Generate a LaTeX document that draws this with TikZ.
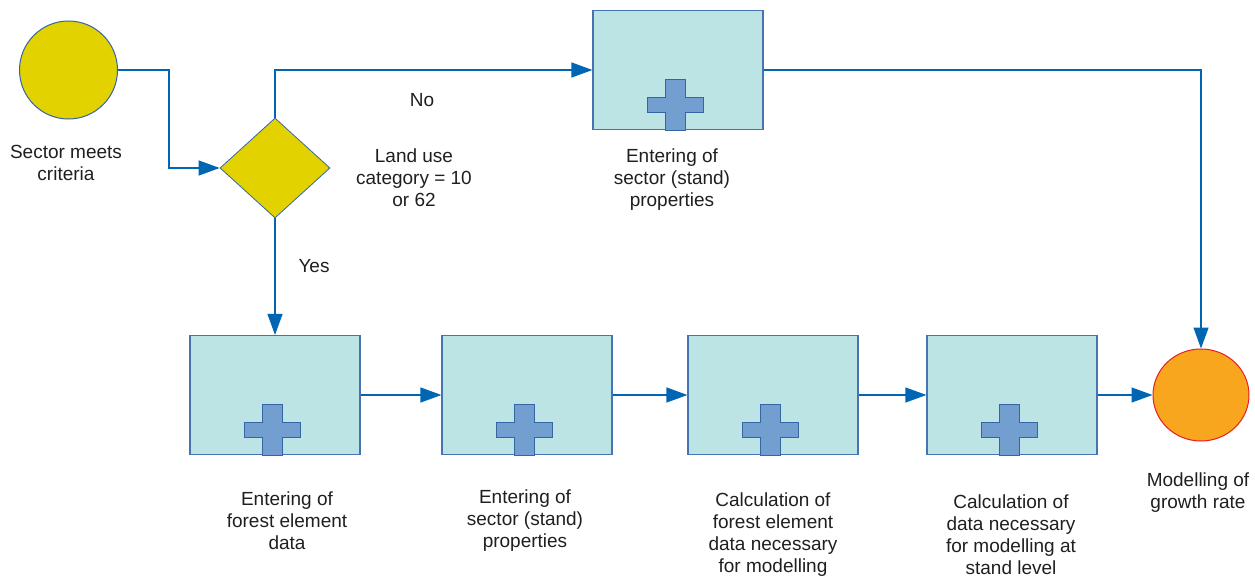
\documentclass[tikz,border=0pt]{standalone}
\usepackage{fontspec}
\setmainfont{Liberation Sans}
\usetikzlibrary{arrows.meta,shapes.geometric}

\definecolor{startyellow}{RGB}{226,210,0}
\definecolor{shapeline}{RGB}{52,101,164}
\definecolor{boxfill}{RGB}{189,228,228}
\definecolor{boxline}{RGB}{70,115,178}
\definecolor{plusfill}{RGB}{114,159,207}
\definecolor{linkblue}{RGB}{0,102,179}
\definecolor{goalorange}{RGB}{247,166,30}
\definecolor{goalred}{RGB}{232,30,36}

\tikzset{
  procbox/.style={draw=boxline, fill=boxfill, line width=1.2pt,
    minimum width=170pt, minimum height=119pt, inner sep=0pt},
  connector/.style={draw=linkblue, line width=1.3pt,
    -{Triangle[length=21pt,width=15pt]}},
  txt/.style={font=\fontsize{19}{22}\selectfont, align=center, text=black!88},
  plusmark/.style={fill=plusfill, draw=shapeline, line width=1pt, line join=miter}
}

% blue plus sign sitting on the bottom edge of a process box
\newcommand\drawplus[1]{%
  \begin{scope}[shift={(#1.south)}, xshift=-2.5pt]
    \path[plusmark] (-10,0) -- (-10,-18) -- (-28,-18) -- (-28,-33) -- (-10,-33)
      -- (-10,-51) -- (10,-51) -- (10,-33) -- (28,-33) -- (28,-18) -- (10,-18)
      -- (10,0) -- cycle;
  \end{scope}}

\begin{document}
\begin{tikzpicture}[x=1pt,y=-1pt]
\useasboundingbox (0,0) rectangle (1255,578);

% start and decision
\node[circle, fill=startyellow, draw=shapeline, line width=1pt,
  minimum size=98pt, inner sep=0pt] (start) at (68.5,70) {};
\node[txt] (startlbl) at (66,163) {Sector meets\\criteria};

\node[diamond, fill=startyellow, draw=shapeline, line width=0.8pt,
  minimum width=110pt, minimum height=100pt, inner sep=0pt, aspect=1.1] (dec) at (275,168) {};
\node[txt] (declbl) at (414,178) {Land use\\category = 10\\or 62};
\node[txt] (nolbl) at (422,100) {No};
\node[txt] (yeslbl) at (314,266) {Yes};

% process boxes
\node[procbox] (top) at (678,70) {};
\node[txt] (toplbl) at (672,179.5) {Entering of\\sector (stand)\\properties};

\node[procbox] (b1) at (275,395) {};
\node[procbox] (b2) at (527,395) {};
\node[procbox] (b3) at (773,395) {};
\node[procbox] (b4) at (1012,395) {};

\drawplus{top}
\drawplus{b1}
\drawplus{b2}
\drawplus{b3}
\drawplus{b4}

\node[txt] (b1lbl) at (287,521) {Entering of\\forest element\\data};
\node[txt] (b2lbl) at (525,521) {Entering of\\sector (stand)\\properties};
\node[txt] (b3lbl) at (773,535) {Calculation of\\forest element\\data necessary\\for modelling};
\node[txt] (b4lbl) at (1011,535) {Calculation of\\data necessary\\for modelling at\\stand level};

% end
\node[ellipse, fill=goalorange, draw=goalred, line width=1pt,
  minimum width=96pt, minimum height=92pt, inner sep=0pt] (goal) at (1201,395) {};
\node[txt] (goallbl) at (1198,493) {Modelling of\\growth rate};

% connectors
\draw[connector] (start.east) -- ++(51,0) |- (dec.west);
\draw[connector] (dec.north) |- (top.west);
\draw[connector] (dec.south) -- (b1.north);
\draw[connector] (top.east) -| (goal.north);
\draw[connector] (b1.east) -- (b2.west);
\draw[connector] (b2.east) -- (b3.west);
\draw[connector] (b3.east) -- (b4.west);
\draw[connector] (b4.east) -- (goal.west);
\end{tikzpicture}
\end{document}
